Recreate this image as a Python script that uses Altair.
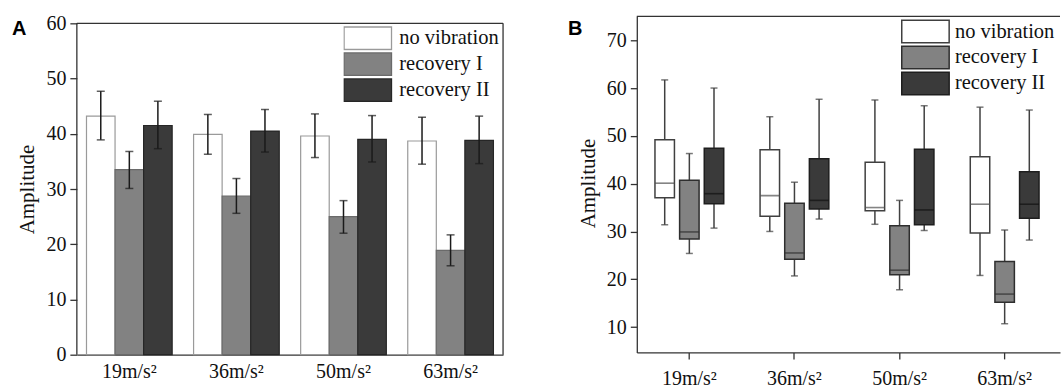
import altair as alt
import pandas as pd

SERIF = "Liberation Serif"
SANS = "Liberation Sans"

groups = ["19m/s²", "36m/s²", "50m/s²", "63m/s²"]
series = ["no vibration", "recovery I", "recovery II"]

# ---- Panel A: mean amplitude with error bars ----
a_nv_mean = [43.2, 39.9, 39.6, 38.7]
a_nv_lo = [38.9, 36.3, 35.7, 34.5]
a_nv_hi = [47.7, 43.5, 43.6, 43.0]
a_r1_mean = [33.5, 28.7, 25.0, 18.9]
a_r1_lo = [30.1, 25.6, 22.0, 16.1]
a_r1_hi = [36.8, 31.9, 27.9, 21.7]
a_r2_mean = [41.5, 40.5, 39.0, 38.8]
a_r2_lo = [37.3, 36.7, 34.9, 34.6]
a_r2_hi = [45.9, 44.4, 43.3, 43.2]

# ---- Panel B: box plots ----
b_nv_min = [31.4, 30.0, 31.5, 20.8]
b_nv_q1 = [37.05, 33.2, 34.35, 29.7]
b_nv_med = [40.1, 37.5, 35.0, 35.7]
b_nv_q3 = [49.2, 47.1, 44.5, 45.65]
b_nv_max = [61.7, 54.0, 57.5, 56.0]
b_r1_min = [25.4, 20.7, 17.8, 10.7]
b_r1_q1 = [28.4, 24.2, 20.95, 15.2]
b_r1_med = [29.9, 25.5, 21.9, 16.9]
b_r1_q3 = [40.7, 35.9, 31.2, 23.7]
b_r1_max = [46.3, 40.3, 36.5, 30.3]
b_r2_min = [30.7, 32.6, 30.2, 28.2]
b_r2_q1 = [35.8, 34.7, 31.4, 32.75]
b_r2_med = [37.9, 36.5, 34.5, 35.7]
b_r2_q3 = [47.4, 45.2, 47.2, 42.5]
b_r2_max = [60.0, 57.65, 56.3, 55.4]

rows_a = []
for s, m, lo, hi in [(series[0], a_nv_mean, a_nv_lo, a_nv_hi),
                     (series[1], a_r1_mean, a_r1_lo, a_r1_hi),
                     (series[2], a_r2_mean, a_r2_lo, a_r2_hi)]:
    for g, mv, lv, hv in zip(groups, m, lo, hi):
        rows_a.append({"group": g, "series": s, "mean": mv, "lo": lv, "hi": hv})
df_a = pd.DataFrame(rows_a)

rows_b = []
for s, mn, q1, md, q3, mx in [(series[0], b_nv_min, b_nv_q1, b_nv_med, b_nv_q3, b_nv_max),
                              (series[1], b_r1_min, b_r1_q1, b_r1_med, b_r1_q3, b_r1_max),
                              (series[2], b_r2_min, b_r2_q1, b_r2_med, b_r2_q3, b_r2_max)]:
    for i, g in enumerate(groups):
        rows_b.append({"group": g, "series": s, "min": mn[i], "q1": q1[i],
                       "med": md[i], "q3": q3[i], "max": mx[i]})
df_b = pd.DataFrame(rows_b)

AX = "#333333"
TXT = "#111111"
LBL = 20
RECT_PATH = "M-1,-0.474H1V0.474H-1Z"

# ================= Panel A =================
WA, HA = 427, 339
yA_scale = alt.Scale(domain=[0, 61.27], nice=False, zero=True)
xA = alt.X("group:N", sort=groups, title=None,
           scale=alt.Scale(paddingInner=0.2, paddingOuter=0.09),
           axis=alt.Axis(ticks=False, labelAngle=0, labelPadding=7, domainColor=AX,
                         domainWidth=1.3, labelFont=SERIF, labelFontSize=LBL, labelColor=TXT))
xoA = alt.XOffset("series:N", sort=series, scale=alt.Scale(paddingInner=0, paddingOuter=0))
axisA = alt.Axis(values=[0, 10, 20, 30, 40, 50, 60], domain=False, tickSize=7, tickColor=AX,
                 tickWidth=1.3, labelPadding=4, labelFont=SERIF, labelFontSize=LBL,
                 labelColor=TXT, grid=False, titleFont=SERIF, titleFontSize=21,
                 titleFontWeight="normal", titleColor=TXT, titleX=-39, titleY=173)


def yA(field):
    return alt.Y(field, scale=yA_scale, axis=axisA, title="Amplitude")


legA = alt.Legend(orient="none", legendX=267, legendY=9.3, title=None,
                  symbolType=RECT_PATH, symbolSize=2256, symbolStrokeWidth=1.3,
                  clipHeight=25.3, rowPadding=0, labelFont=SERIF, labelFontSize=20.5,
                  labelColor=TXT, labelOffset=7, padding=0, offset=0, labelLimit=300)

bars = alt.Chart(df_a).mark_bar(strokeWidth=1.2).encode(
    x=xA, xOffset=xoA, y=yA("mean:Q"),
    fill=alt.Fill("series:N", sort=series, legend=legA,
                  scale=alt.Scale(domain=series, range=["#ffffff", "#828282", "#3a3a3a"])),
    stroke=alt.Stroke("series:N", sort=series, legend=legA,
                      scale=alt.Scale(domain=series, range=["#9a9a9a", "#6a6a6a", "#262626"])),
)
err = alt.Chart(df_a).mark_rule(color="#1a1a1a", strokeWidth=1.5).encode(
    x=xA, xOffset=xoA, y=yA("lo:Q"), y2="hi:Q")
cap_lo = alt.Chart(df_a).mark_tick(color="#1a1a1a", size=8, thickness=1.5).encode(
    x=xA, xOffset=xoA, y=yA("lo:Q"))
cap_hi = alt.Chart(df_a).mark_tick(color="#1a1a1a", size=8, thickness=1.5).encode(
    x=xA, xOffset=xoA, y=yA("hi:Q"))

frameA_left = alt.Chart().mark_rule(color=AX, strokeWidth=1.3).encode(
    x=alt.value(0), y=alt.YDatum(0, scale=yA_scale, axis=axisA, title="Amplitude"),
    y2=alt.Y2Datum(60))
frameA_top = alt.Chart().mark_rule(color=AX, strokeWidth=1.3).encode(
    x=alt.value(0), x2=alt.value(WA),
    y=alt.YDatum(60, scale=yA_scale, axis=axisA, title="Amplitude"))
frameA_right = alt.Chart().mark_rule(color=AX, strokeWidth=1.3).encode(
    x=alt.value(WA), y=alt.YDatum(0, scale=yA_scale, axis=axisA, title="Amplitude"),
    y2=alt.Y2Datum(60))
letterA = alt.Chart().mark_text(text="A", font=SANS, fontSize=20, fontWeight="bold",
                                align="left", baseline="alphabetic", color="#000").encode(
    x=alt.value(-65), y=alt.value(19))

chartA = alt.layer(bars, err, cap_lo, cap_hi, frameA_left, frameA_top, frameA_right,
                   letterA).properties(width=WA, height=HA)

# ================= Panel B =================
WB, HB = 424, 336.7
yB_scale = alt.Scale(domain=[4.7, 75], nice=False, zero=False)
xB = alt.X("group:N", sort=groups, title=None,
           scale=alt.Scale(paddingInner=0, paddingOuter=0.0133, align=0),
           axis=alt.Axis(ticks=True, tickSize=6.5, tickColor=AX, tickWidth=1.3, labelAngle=0,
                         labelPadding=10, domainColor=AX, domainWidth=1.3,
                         labelFont=SERIF, labelFontSize=LBL, labelColor=TXT))
xoB = alt.XOffset("series:N", sort=series, scale=alt.Scale(paddingInner=0.21, paddingOuter=0.737))
axisB = alt.Axis(values=[10, 20, 30, 40, 50, 60, 70], domain=True, domainColor=AX,
                 domainWidth=1.3, tickSize=6.5, tickColor=AX, tickWidth=1.3, labelPadding=4,
                 labelFont=SERIF, labelFontSize=LBL, labelColor=TXT, grid=False,
                 titleFont=SERIF, titleFontSize=21, titleFontWeight="normal",
                 titleColor=TXT, titleX=-38, titleY=167)


def yB(field):
    return alt.Y(field, scale=yB_scale, axis=axisB, title="Amplitude")


legB = alt.Legend(orient="none", legendX=264.7, legendY=2.6, title=None,
                  symbolType=RECT_PATH, symbolSize=2256, symbolStrokeWidth=1.5,
                  clipHeight=25.3, rowPadding=0, labelFont=SERIF, labelFontSize=20.5,
                  labelColor=TXT, labelOffset=5, padding=0, offset=0, labelLimit=300)

whisk = alt.Chart(df_b).mark_rule(color="#404040", strokeWidth=1.5).encode(
    x=xB, xOffset=xoB, y=yB("min:Q"), y2="max:Q")
wcap_lo = alt.Chart(df_b).mark_tick(color="#404040", size=7, thickness=1.5).encode(
    x=xB, xOffset=xoB, y=yB("min:Q"))
wcap_hi = alt.Chart(df_b).mark_tick(color="#404040", size=7, thickness=1.5).encode(
    x=xB, xOffset=xoB, y=yB("max:Q"))
boxes = alt.Chart(df_b).mark_bar(strokeWidth=1.5).encode(
    x=xB, xOffset=xoB, y=yB("q1:Q"), y2="q3:Q",
    fill=alt.Fill("series:N", sort=series, legend=legB,
                  scale=alt.Scale(domain=series, range=["#ffffff", "#828282", "#3a3a3a"])),
    stroke=alt.Stroke("series:N", sort=series, legend=legB,
                      scale=alt.Scale(domain=series, range=["#404040", "#2e2e2e", "#1e1e1e"])),
)
medians = alt.Chart(df_b).mark_tick(size=19.5, thickness=1.6).encode(
    x=xB, xOffset=xoB, y=yB("med:Q"),
    color=alt.Color("series:N", sort=series, legend=None,
                    scale=alt.Scale(domain=series, range=["#505050", "#303030", "#111111"])))
frameB_top = alt.Chart().mark_rule(color=AX, strokeWidth=1.3).encode(
    x=alt.value(0), x2=alt.value(WB),
    y=alt.YDatum(75, scale=yB_scale, axis=axisB, title="Amplitude"))
letterB = alt.Chart().mark_text(text="B", font=SANS, fontSize=20, fontWeight="bold",
                                align="left", baseline="alphabetic", color="#000").encode(
    x=alt.value(-69), y=alt.value(19))

chartB = alt.layer(whisk, wcap_lo, wcap_hi, boxes, medians, frameB_top,
                   letterB).properties(width=WB, height=HB)

chart = alt.hconcat(chartA, chartB, spacing=64).resolve_scale(
    y="independent", x="independent", xOffset="independent", fill="independent",
    stroke="independent", color="independent").properties(
    padding={"left": 12, "top": 13, "right": 0, "bottom": 0},
    background="white",
).configure_view(strokeOpacity=0).configure_axis(
    labelFont=SERIF, titleFont=SERIF, labelFontSize=LBL, labelColor=TXT
).configure_legend(labelFont=SERIF)

chart.save("out.html", embed_options={"renderer": "svg", "actions": False})
